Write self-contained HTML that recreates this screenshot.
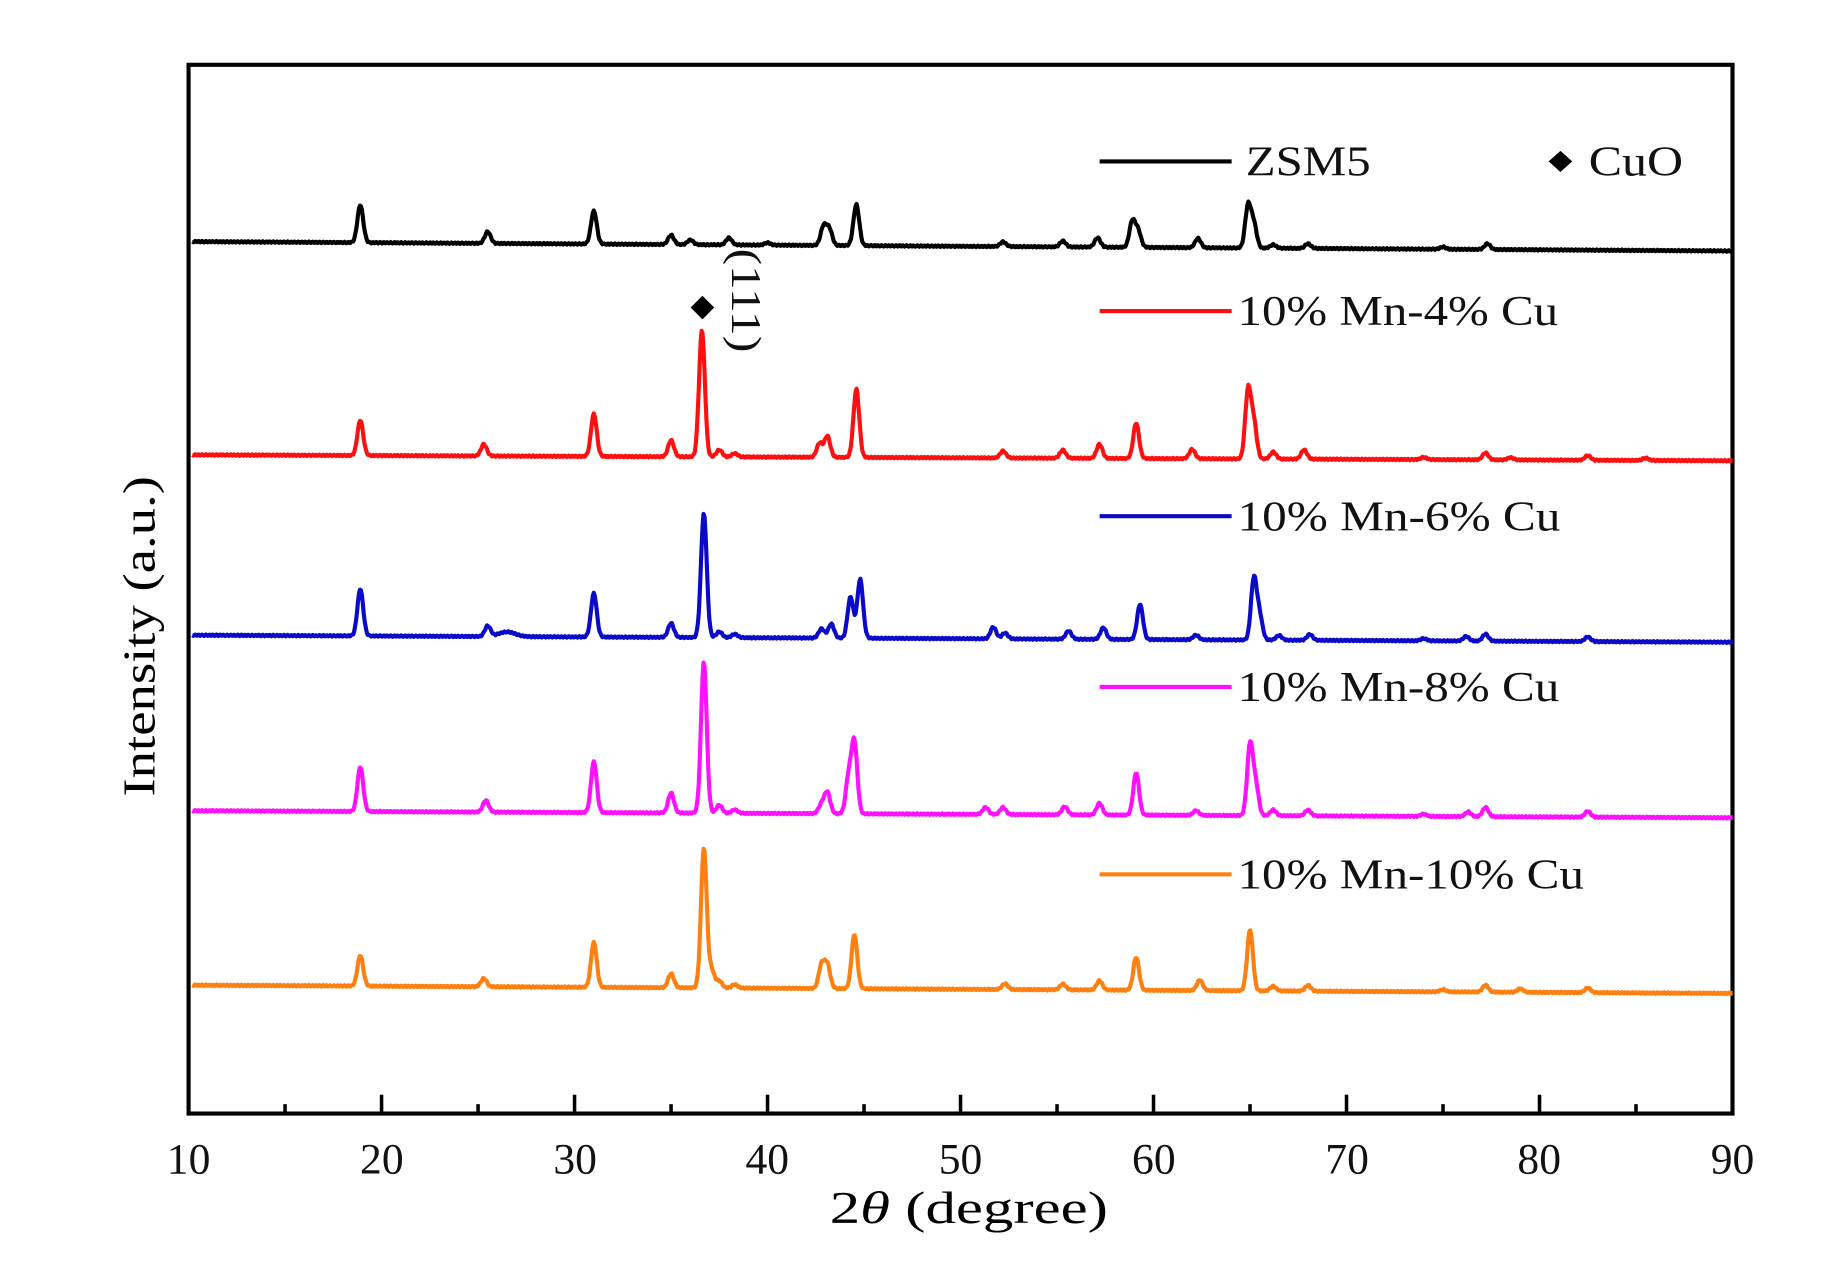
<!DOCTYPE html>
<html><head><meta charset="utf-8"><style>
html,body{margin:0;padding:0;background:#fff;}
svg{display:block;}
text{font-family:"Liberation Serif",serif;}
</style></head><body>
<svg id="s" width="1848" height="1275" viewBox="0 0 1568 1082" preserveAspectRatio="none">
<rect x="160" y="55" width="1310" height="890" fill="none" stroke="#000" stroke-width="3.5"/>
<g id="ticks" stroke="#000" stroke-width="3"></g>
<g font-size="37" text-anchor="middle" fill="#111">
<text x="160" y="996">10</text><text x="324" y="996">20</text><text x="488" y="996">30</text><text x="651" y="996">40</text><text x="815" y="996">50</text><text x="979" y="996">60</text><text x="1143" y="996">70</text><text x="1306" y="996">80</text><text x="1470" y="996">90</text>
</g>
<text x="822" y="1038" font-size="39" text-anchor="middle" textLength="236" lengthAdjust="spacingAndGlyphs">2<tspan font-style="italic">θ</tspan> (degree)</text>
<text transform="translate(131,540) rotate(-90)" font-size="39" text-anchor="middle" textLength="272" lengthAdjust="spacingAndGlyphs">Intensity (a.u.)</text>
<g id="series" fill="none" stroke-width="3.5" stroke-linejoin="round"></g>
<g font-size="36" fill="#111">
<line x1="933" y1="137" x2="1045" y2="137" stroke="#000" stroke-width="3.5"/><text x="1057" y="149" textLength="106" lengthAdjust="spacingAndGlyphs">ZSM5</text>
<path d="M1324 128 L1334 137 L1324 146 L1314 137Z" fill="#000"/><text x="1348" y="149" textLength="80" lengthAdjust="spacingAndGlyphs">CuO</text>
<line x1="933" y1="264" x2="1045" y2="264" stroke="#ff1010" stroke-width="3.5"/><text x="1050" y="276" textLength="272" lengthAdjust="spacingAndGlyphs">10% Mn-4% Cu</text>
<line x1="933" y1="438" x2="1045" y2="438" stroke="#0a0ac8" stroke-width="3.5"/><text x="1050" y="450" textLength="274" lengthAdjust="spacingAndGlyphs">10% Mn-6% Cu</text>
<line x1="933" y1="583" x2="1045" y2="583" stroke="#ff10ff" stroke-width="3.5"/><text x="1050" y="595" textLength="273" lengthAdjust="spacingAndGlyphs">10% Mn-8% Cu</text>
<line x1="933" y1="742" x2="1045" y2="742" stroke="#ff8010" stroke-width="3.5"/><text x="1050" y="754" textLength="294" lengthAdjust="spacingAndGlyphs">10% Mn-10% Cu</text>
<path d="M596 251 L606 261 L596 271 L586 261Z" fill="#000"/>
<text transform="translate(621,255) rotate(90)" font-size="36" text-anchor="middle" textLength="88" lengthAdjust="spacingAndGlyphs">(111)</text>
</g>
</svg>
<script>
var NS="http://www.w3.org/2000/svg";
var tg=document.getElementById('ticks');
for(var v=15;v<90;v+=5){var x=160+(v-10)*16.375;var l=document.createElementNS(NS,'line');l.setAttribute('x1',x);l.setAttribute('x2',x);l.setAttribute('y1',945);l.setAttribute('y2',v%10==0?929:937);tg.appendChild(l);}
var S=[
["#000",205,213,[[18.9,32],[25.5,10],[31,28],[35,8],[36,4],[38,6],[40,2],[42.9,16],[43.2,14],[44.6,35],[52.2,4],[55.3,5],[57.1,8],[58.9,22],[59.2,14],[62.3,8],[64.9,36],[65.2,20],[66.2,3],[68,4],[75,2],[77.3,5]]],
["#ff1010",386,391,[[18.9,30],[25.3,10],[31,36],[35,14],[36.6,108],[37.5,6],[38.3,3],[42.7,12],[43.1,18],[44.6,58],[52.2,6],[55.3,7],[57.2,12],[59.1,30],[62,8],[64.9,58],[65.2,30],[66.2,6],[67.8,8],[74,2],[77.2,6],[78.5,2],[82.5,4],[85.5,2]]],
["#0a0ac8",539,545,[[18.9,40],[25.5,9],[26.5,4,0.6],[31,37],[35,12],[36.7,105],[37.5,5],[38.3,3],[42.8,8],[43.3,12],[44.3,35],[44.8,50],[51.7,10],[52.3,5],[55.6,7],[57.4,10],[59.3,30],[62.2,4],[65.2,52],[65.5,20],[66.5,4],[68.1,5],[74,2],[76.2,4],[77.2,6],[82.5,4]]],
["#ff10ff",688,694,[[18.9,38],[25.4,10],[31,43],[35,17],[36.7,128],[37.5,7],[38.3,3],[42.8,8],[43.1,18],[44.2,30],[44.5,60],[51.3,6],[52.2,6],[55.4,7],[57.2,10],[59.1,36],[62.2,4],[65,60],[65.3,25],[66.2,5],[68,5],[74,2],[76.3,4],[77.2,8],[82.5,5]]],
["#ff8010",836,843,[[18.9,26],[25.3,7],[31,38],[35,12],[36.7,118],[37.1,15],[37.5,6],[38.3,3],[42.8,20],[43.1,20],[44.5,46],[52.3,5],[55.3,5],[57.2,8],[59.1,28],[62.4,9],[65,52],[66.2,4],[68,5],[75,2],[77.2,6],[79,3],[82.5,4]]]
];
var sg=document.getElementById('series');
S.forEach(function(s){var d="";for(var i=0;i<=1600;i++){var t=10.2+i*(79.8/1600);var y=s[1]+(s[2]-s[1])*(t-10)/80;var h=0;s[3].forEach(function(p){var w=p[2]||0.21;var z=(t-p[0])/w;h+=p[1]*Math.exp(-z*z);});y-=h;y+=Math.sin(i*1.7)*0.6;var x=160+(t-10)*16.375;d+=(i?"L":"M")+x.toFixed(1)+" "+y.toFixed(1);}var p=document.createElementNS(NS,'path');p.setAttribute('d',d);p.setAttribute('stroke',s[0]);sg.appendChild(p);});
</script>
</body></html>
